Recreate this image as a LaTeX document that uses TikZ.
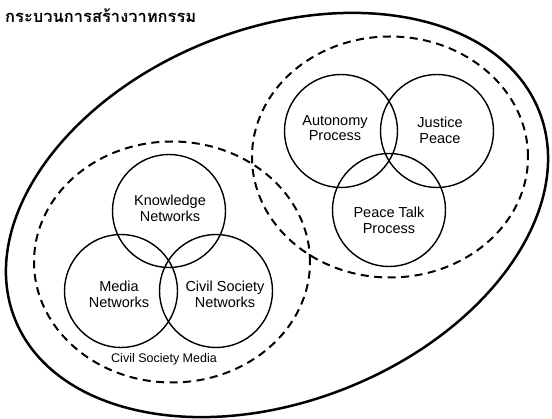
\documentclass[tikz,border=0pt]{standalone}
\usepackage{fontspec}
\setmainfont{Liberation Sans}
\newfontfamily\thaifont[Script=Thai]{Loma}
\usetikzlibrary{shapes.geometric,positioning}

\begin{document}
\begin{tikzpicture}[x=1pt,y=-1pt,
    venn/.style={circle,draw,line width=1.4pt,minimum size=113pt,inner sep=0pt},
    lbl/.style={align=center,inner sep=0pt,font=\fontsize{14.5}{15.7}\selectfont},
    group/.style={ellipse,draw,line width=2pt,dash pattern=on 8pt off 5.5pt,
        minimum width=276pt,minimum height=241pt,inner sep=0pt}]
  \useasboundingbox (0,0) rectangle (552,419);

  % outer frame
  \node[ellipse,draw,line width=2.5pt,minimum width=564pt,minimum height=373pt,
        rotate=21.6] (all) at (277,215) {};
  \node[anchor=base west,inner sep=0pt,font=\thaifont\bfseries\fontsize{16.5}{19}\selectfont]
        (title) at (5,23) {กระบวนการสร้างวาทกรรม};

  % dashed groups
  \node[group] (csm) at (172,262) {};
  \node[group] (peace) at (390,157) {};

  % left set
  \node[venn] (know) at (169,211) {};
  \node[venn] (media) at (121,291) {};
  \node[venn] (civil) at (216,291) {};
  \node[lbl] (know-t) at (170,208) {Knowledge\\Networks};
  \node[lbl] (media-t) at (119,294) {Media\\Networks};
  \node[lbl] (civil-t) at (225,294) {Civil Society\\Networks};
  \node[lbl,font=\fontsize{12.5}{14}\selectfont] (csm-t) at (164,359) {Civil Society Media};

  % right set
  \node[venn] (auto) at (341,131) {};
  \node[venn] (just) at (437,131) {};
  \node[venn] (talk) at (389,210) {};
  \node[lbl] (auto-t) at (335,128) {Autonomy\\Process};
  \node[lbl] (just-t) at (440,130) {Justice\\Peace};
  \node[lbl] (talk-t) at (389,220) {Peace Talk\\Process};
\end{tikzpicture}
\end{document}
